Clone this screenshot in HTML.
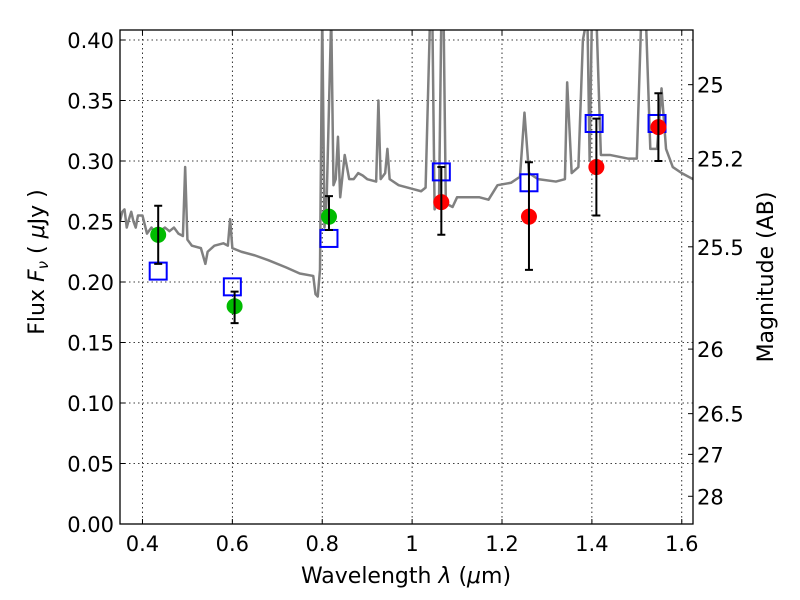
<!DOCTYPE html>
<html><head><meta charset="utf-8"><style>
body{margin:0;background:#fff;}
svg{display:block;font-family:"DejaVu Sans","Liberation Sans",sans-serif;}
</style></head><body>
<svg id="chart" width="800" height="600" xmlns="http://www.w3.org/2000/svg"></svg>
<script>
const specX=[0.35,0.355,0.36,0.365,0.37,0.375,0.38,0.385,0.39,0.40,0.41,0.42,0.43,0.45,0.46,0.47,0.48,0.49,0.495,0.50,0.51,0.53,0.54,0.545,0.56,0.58,0.59,0.595,0.60,0.62,0.65,0.68,0.72,0.75,0.78,0.785,0.79,0.795,0.80,0.805,0.81,0.82,0.825,0.83,0.835,0.84,0.85,0.86,0.87,0.88,0.89,0.9,0.92,0.925,0.93,0.94,0.945,0.95,0.97,1.0,1.02,1.03,1.04,1.045,1.05,1.06,1.065,1.07,1.075,1.09,1.1,1.15,1.17,1.19,1.22,1.24,1.25,1.26,1.28,1.32,1.34,1.345,1.355,1.37,1.38,1.39,1.395,1.4,1.41,1.42,1.44,1.48,1.5,1.51,1.52,1.53,1.545,1.555,1.565,1.58,1.6,1.625];
const specY=[0.25,0.258,0.26,0.245,0.252,0.258,0.25,0.245,0.255,0.255,0.24,0.245,0.24,0.245,0.242,0.245,0.24,0.238,0.295,0.235,0.23,0.228,0.215,0.225,0.23,0.232,0.23,0.252,0.228,0.225,0.222,0.218,0.212,0.207,0.205,0.19,0.188,0.21,0.42,0.245,0.27,0.42,0.28,0.285,0.32,0.27,0.305,0.285,0.285,0.29,0.288,0.285,0.283,0.35,0.285,0.29,0.31,0.285,0.28,0.277,0.275,0.278,0.42,0.42,0.26,0.27,0.42,0.42,0.265,0.262,0.27,0.27,0.268,0.28,0.282,0.287,0.34,0.29,0.285,0.283,0.285,0.365,0.29,0.295,0.4,0.42,0.30,0.42,0.42,0.305,0.305,0.302,0.302,0.42,0.42,0.31,0.31,0.36,0.31,0.295,0.29,0.285];
const obsX=[0.435,0.605,0.815,1.065,1.26,1.41,1.548];
const obsY=[0.239,0.180,0.254,0.266,0.254,0.295,0.328];
const errLo=[0.215,0.166,0.243,0.239,0.210,0.255,0.300];
const errHi=[0.263,0.192,0.271,0.295,0.299,0.335,0.356];
const obsColor=['#00bb00','#00bb00','#00bb00','#ff0000','#ff0000','#ff0000','#ff0000'];
const modX=[0.435,0.6,0.815,1.065,1.26,1.405,1.545];
const modY=[0.209,0.196,0.236,0.291,0.282,0.331,0.331];
const xTicks=[0.4,0.6,0.8,1.0,1.2,1.4,1.6];
const xTickLabels=['0.4','0.6','0.8','1','1.2','1.4','1.6'];
const yTicks=[0,0.05,0.1,0.15,0.2,0.25,0.3,0.35,0.4];
const yTickLabels=['0.00','0.05','0.10','0.15','0.20','0.25','0.30','0.35','0.40'];
const magTicks=[25,25.2,25.5,26,26.5,27,28];
const magLabels=['25','25.2','25.5','26','26.5','27','28'];

const L=120,R=693,T=30,B=524;
const X=v=>L+(v-0.35)/(1.625-0.35)*(R-L);
const Y=v=>B-v*1210;
const svg=document.getElementById('chart');
const NS='http://www.w3.org/2000/svg';
function mk(tag,a,p){const e=document.createElementNS(NS,tag);for(const k in a)e.setAttribute(k,a[k]);(p||svg).appendChild(e);return e;}
const defs=mk('defs',{});
const cp=mk('clipPath',{id:'c'},defs);mk('rect',{x:L,y:T,width:R-L,height:B-T},cp);

xTicks.forEach((t,i)=>{
  const g=mk('line',{x1:X(t),x2:X(t),y1:T,y2:B,stroke:'#000','stroke-width':0.8,'stroke-dasharray':'1.5,3'});
  
  
  mk('line',{x1:X(t),x2:X(t),y1:B,y2:B-5,stroke:'#000'});
  mk('line',{x1:X(t),x2:X(t),y1:T,y2:T+5,stroke:'#000'});
  const tx=mk('text',{x:X(t),y:B+27,'font-size':21,'text-anchor':'middle'});tx.textContent=xTickLabels[i];
  
  
});
yTicks.forEach((t,i)=>{
  const g=mk('line',{x1:L,x2:R,y1:Y(t),y2:Y(t),stroke:'#000','stroke-width':0.8,'stroke-dasharray':'1.5,3'});
  
  
  mk('line',{x1:L,x2:L+5,y1:Y(t),y2:Y(t),stroke:'#000'});
  const tx=mk('text',{x:L-6,y:Y(t)+8,'font-size':21,'text-anchor':'end'});tx.textContent=yTickLabels[i];
  
  
});
magTicks.forEach((m,i)=>{
  const f=Math.pow(10,(23.9-m)/2.5);
  mk('line',{x1:R,x2:R-5,y1:Y(f),y2:Y(f),stroke:'#000'});
  const tx=mk('text',{x:R+4,y:Y(f)+8,'font-size':21});tx.textContent=magLabels[i];
  
  
});

const sp=mk('polyline',{points:specX.map((x,i)=>X(x)+','+Y(specY[i])).join(' '),fill:'none',stroke:'#808080','stroke-width':2.5,'clip-path':'url(#c)','stroke-linejoin':'round'});



modX.forEach((x,i)=>{
  const r=mk('rect',{x:X(x)-8.5,y:Y(modY[i])-8.5,width:17,height:17,fill:'none',stroke:'#0000ff','stroke-width':2});
  
  
});
obsX.forEach((x,i)=>{
  const c=mk('circle',{cx:X(x),cy:Y(obsY[i]),r:8,fill:obsColor[i]});
  
  
  const e=mk('path',{d:`M${X(x)},${Y(errLo[i])}V${Y(errHi[i])}M${X(x)-4},${Y(errLo[i])}h8M${X(x)-4},${Y(errHi[i])}h8`,stroke:'#000','stroke-width':2,fill:'none'});
  
  
});

const fr=mk('rect',{x:L,y:T,width:R-L,height:B-T,fill:'none',stroke:'#000','stroke-width':1.3});



const xl=mk('text',{x:406,y:583,'font-size':22,'text-anchor':'middle'});
xl.innerHTML='Wavelength  <tspan font-style="italic">λ</tspan> (<tspan font-style="italic">μ</tspan>m)';


const yl=mk('text',{x:0,y:0,'font-size':22,'text-anchor':'middle',transform:'translate(44,262) rotate(-90)'});
yl.innerHTML='Flux  <tspan font-style="italic">F</tspan><tspan font-style="italic" font-size="15" dy="4">ν</tspan><tspan dy="-4">  (  </tspan><tspan font-style="italic">μ</tspan>Jy )';


const ml=mk('text',{x:0,y:0,'font-size':22,'text-anchor':'middle',transform:'translate(773,277) rotate(-90)'});
ml.textContent='Magnitude (AB)';


</script>
</body></html>
